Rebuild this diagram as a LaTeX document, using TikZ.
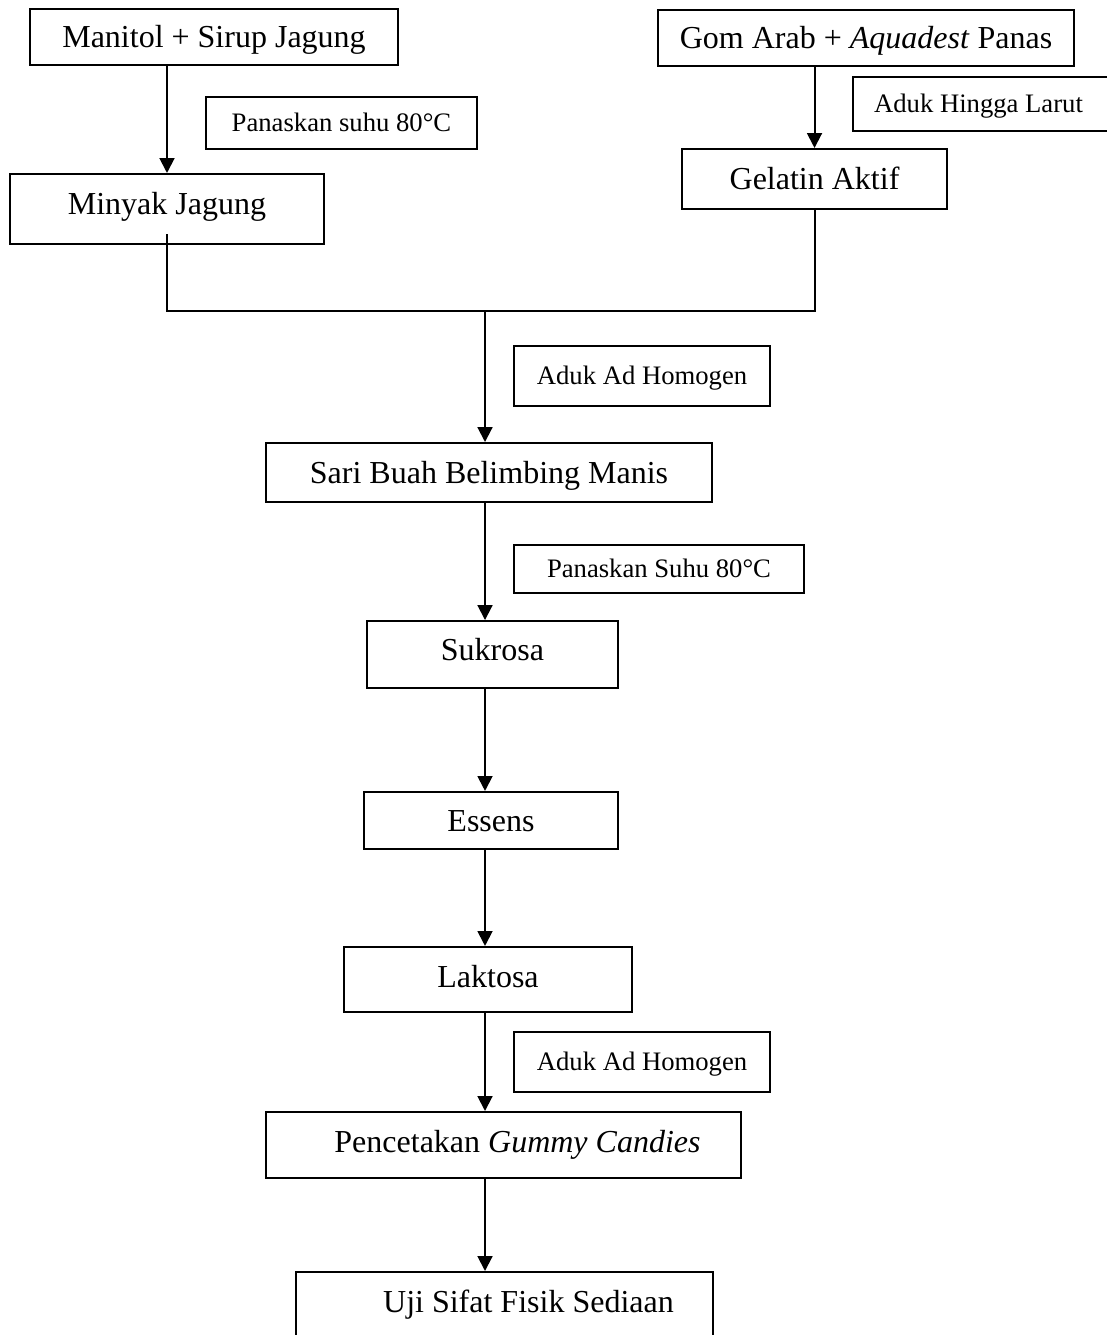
\documentclass[tikz,border=0pt]{standalone}
\usepackage{fontspec}
\setmainfont{Liberation Serif}
\usetikzlibrary{arrows.meta}

\tikzset{
  stagebox/.style={draw, line width=0.75pt, inner sep=0pt, font=\large, text height=7.9pt, text depth=0pt},
  notebox/.style={draw, line width=0.75pt, inner sep=0pt, font=\normalsize, text height=6.6pt, text depth=0pt},
  arr/.style={line width=0.75pt, -{Triangle[length=5.6pt,width=5.6pt]}}
}

\begin{document}
\begin{tikzpicture}[x=0.375pt, y=-0.375pt]
\path[use as bounding box, clip] (0,0) rectangle (1107,1335);
\node[stagebox, minimum width=138pt, minimum height=21pt] (man) at (214,37) {Manitol + Sirup Jagung};
\node[notebox, minimum width=101.6pt, minimum height=19.5pt] (panas1) at (341.5,123) {Panaskan suhu 80°C};
\node[stagebox, minimum width=117.75pt, minimum height=26.25pt, text depth=3.4pt] (mjg) at (167,209) {Minyak Jagung};
\node[stagebox, minimum width=156pt, minimum height=21pt] (gom) at (866,38) {Gom Arab + \textit{Aquadest} Panas};
\node[notebox, anchor=west, text width=88.5pt, inner xsep=7.9pt, align=flush left, minimum height=20.25pt] (larut) at (852,104) {Aduk Hingga Larut};
\node[stagebox, minimum width=99.4pt, minimum height=22.5pt] (gel) at (814.5,179) {Gelatin Aktif};
\coordinate (mix) at (485,311);
\node[notebox, minimum width=96pt, minimum height=22.5pt] (aduk1) at (642,376) {Aduk Ad Homogen};
\node[stagebox, minimum width=167.25pt, minimum height=22.1pt] (sari) at (489,472.5) {Sari Buah Belimbing Manis};
\node[notebox, minimum width=108.75pt, minimum height=18pt] (panas2) at (659,569) {Panaskan Suhu 80°C};
\node[stagebox, minimum width=94.1pt, minimum height=25.1pt, text depth=3.4pt] (suk) at (492.5,654.5) {Sukrosa};
\node[stagebox, minimum width=95.25pt, minimum height=21.4pt] (ess) at (491,820.5) {Essens};
\node[stagebox, minimum width=108pt, minimum height=24.4pt, text depth=1.9pt] (lak) at (488,979.5) {Laktosa};
\node[notebox, minimum width=96pt, minimum height=22.5pt] (aduk2) at (642,1062) {Aduk Ad Homogen};
\node[stagebox, minimum width=178.1pt, minimum height=24.75pt, text depth=2.6pt] (cet) at (503.5,1145) {\hspace*{10.5pt}Pencetakan \textit{Gummy Candies}};
\node[stagebox, anchor=north, minimum width=156.4pt, text height=15pt, text depth=26pt] (uji) at (504.5,1271) {\hspace*{18pt}Uji Sifat Fisik Sediaan};
\draw[arr] (man.south -| mjg.north) -- (mjg.north);
\draw[arr] (gom.south -| gel.north) -- (gel.north);
\draw[line width=0.75pt] ([yshift=4pt]mjg.south) |- (mix) -| (gel.south);
\draw[arr] (mix) -- (mix |- sari.north);
\draw[arr] (sari.south -| mix) -- (suk.north -| mix);
\draw[arr] (suk.south -| mix) -- (ess.north -| mix);
\draw[arr] (ess.south -| mix) -- (lak.north -| mix);
\draw[arr] (lak.south -| mix) -- (cet.north -| mix);
\draw[arr] (cet.south -| mix) -- (uji.north -| mix);
\end{tikzpicture}
\end{document}
